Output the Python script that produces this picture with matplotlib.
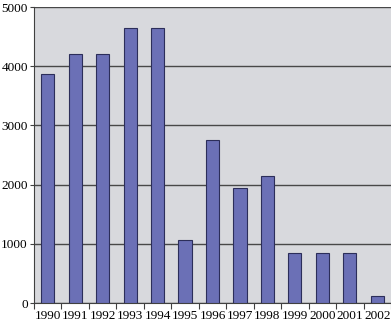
import matplotlib.pyplot as plt

years = ['1990', '1991', '1992', '1993', '1994', '1995', '1996',
         '1997', '1998', '1999', '2000', '2001', '2002']
values = [3860, 4200, 4200, 4640, 4640, 1070, 2750, 1950, 2140, 840, 840, 840, 110]

plt.rcParams['font.family'] = ['Liberation Serif', 'DejaVu Serif']

fig = plt.figure(figsize=(3.91, 3.25), dpi=100)
ax = fig.add_axes([34 / 391, 22 / 325, 357 / 391, 296 / 325])
ax.set_facecolor('#d8d9dd')

x = range(len(years))
ax.bar(x, values, width=0.48, color='#6b70b6', edgecolor='#2c2e5a', linewidth=0.8, zorder=3)

ax.set_ylim(0, 5000)
ax.set_xlim(-0.5, len(years) - 0.5)
ax.set_yticks(range(0, 5001, 1000))
ax.yaxis.grid(True, color='#484848', linewidth=1.0, zorder=1)

ax.set_xticks([i + 0.5 for i in range(-1, len(years))], minor=False)
ax.set_xticklabels([])
ax.set_xticks(list(x), minor=True)
ax.set_xticklabels(years, minor=True)
ax.tick_params(axis='x', which='minor', length=0, labelsize=9.5, pad=5)
ax.tick_params(axis='x', which='major', length=4, color='#404040', direction='out')
ax.tick_params(axis='y', length=3, labelsize=9.5, color='#404040', pad=1.5)

for side in ['top', 'right']:
    ax.spines[side].set_visible(False)
ax.spines['left'].set_color('#404040')
ax.spines['bottom'].set_color('#404040')

fig.savefig('out.png', dpi=100)
